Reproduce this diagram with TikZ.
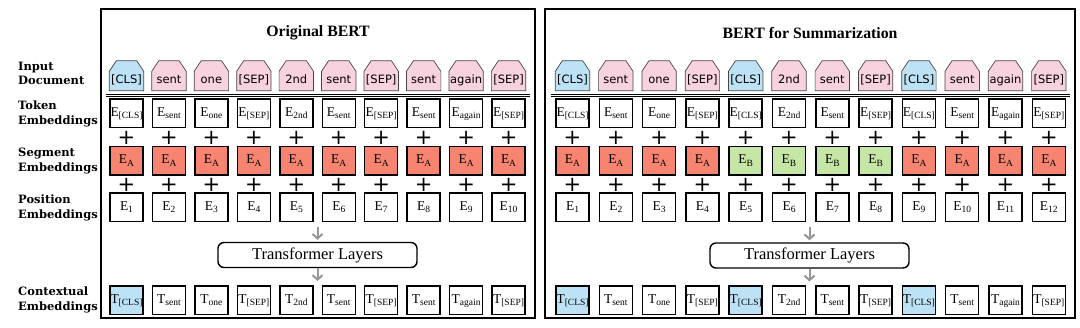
\documentclass[tikz,border=0pt]{standalone}
\usepackage{fontspec}
\setmainfont{Liberation Serif}
\newfontfamily\labfont{DejaVu Serif}
\newfontfamily\tokfont{DejaVu Sans}
\usetikzlibrary{arrows.meta,backgrounds,calc}
\definecolor{clsblue}{RGB}{190,226,245}
\definecolor{tokpink}{RGB}{248,210,222}
\definecolor{segred}{RGB}{246,132,112}
\definecolor{seggreen}{RGB}{198,230,166}
\definecolor{arrgray}{RGB}{150,150,150}
\definecolor{edgegray}{RGB}{70,70,70}
\newcommand{\emb}[2]{#1\raisebox{-2.3pt}{\fontsize{9.5}{9.5}\selectfont #2}}
\begin{document}
\begin{tikzpicture}[x=1pt,y=-1pt,
  panel/.style={draw, line width=1.8pt, inner sep=0pt},
  intok/.style={minimum width=34pt, minimum height=19pt, inner sep=0pt, text height=8.6pt, text depth=2.6pt, font=\tokfont\fontsize{11.5}{12}\selectfont},
  tokedge/.style={draw=edgegray, line width=0.7pt},
  embbox/.style={draw, line width=1.5pt, minimum width=33pt, minimum height=28.5pt, inner sep=0pt, text height=9pt, text depth=3.5pt, font=\fontsize{13.5}{14}\selectfont},
  plussign/.style={inner sep=0pt, font=\tokfont\fontsize{21}{21}\selectfont},
  trbox/.style={draw, line width=1.4pt, rounded corners=6pt, minimum width=199pt, minimum height=25pt, inner sep=0pt, font=\fontsize{16.5}{17}\selectfont},
  garrow/.style={draw=arrgray, line width=2pt, -{Straight Barb[length=4.5pt,width=10pt]}, shorten >=2pt},
  rowlab/.style={anchor=west, align=left, inner sep=0pt, font=\labfont\bfseries\fontsize{11.5}{14.2}\selectfont},
  title/.style={inner sep=0pt, font=\bfseries\fontsize{15.8}{16}\selectfont},
  dline/.style={line width=0.8pt}
]
\useasboundingbox (0,0) rectangle (1080,328);
\begin{pgfonlayer}{background}
\fill[white] (0,0) rectangle (1080,328);
\end{pgfonlayer}

% panels
\node[panel, minimum width=434pt, minimum height=309pt] (Lpanel) at (318,163.5) {};
\node[panel, minimum width=530pt, minimum height=309pt] (Rpanel) at (810,163.5) {};
\node[title] (Ltitle) at (318,33) {Original BERT};
\node[title] (Rtitle) at (810,33) {BERT for Summarization};

% row labels
\node[rowlab] (lab1) at (18,73) {Input\\Document};
\node[rowlab] (lab2) at (18,114) {Token\\Embeddings};
\node[rowlab] (lab3) at (18,161) {Segment\\Embeddings};
\node[rowlab] (lab4) at (18,208) {Position\\Embeddings};
\node[rowlab] (lab5) at (18,300) {Contextual\\Embeddings};

% double lines
\draw[dline] (106,94.3) -- (530,94.3);
\draw[dline] (106,96.8) -- (530,96.8);
\draw[dline] (551,94.3) -- (1070,94.3);
\draw[dline] (551,96.8) -- (1070,96.8);

% ---------- left panel ----------
\foreach \t/\c [count=\i] in {{[CLS]}/clsblue, sent/tokpink, one/tokpink, {[SEP]}/tokpink, 2nd/tokpink, sent/tokpink, {[SEP]}/tokpink, sent/tokpink, again/tokpink, {[SEP]}/tokpink} {
  \node[intok] (Lin\i) at ({126.5+42.45*(\i-1)},81) {\t};
  \begin{pgfonlayer}{background}
  \draw[tokedge, fill=\c] (Lin\i.south west) -- (Lin\i.north west) -- ($(Lin\i.north west)+(7,-10.5)$) -- ($(Lin\i.north east)+(-7,-10.5)$) -- (Lin\i.north east) -- (Lin\i.south east) -- cycle;
  \end{pgfonlayer}
}
\foreach \t [count=\i] in {{[CLS]}, sent, one, {[SEP]}, 2nd, sent, {[SEP]}, sent, again, {[SEP]}} {
  \node[embbox] (Ltok\i) at ({126.5+42.45*(\i-1)},113.5) {\emb{E}{\t}};
  \node[plussign] (Lpa\i) at ({126.5+42.45*(\i-1)},138) {+};
  \node[embbox, fill=segred] (Lseg\i) at ({126.5+42.45*(\i-1)},161) {\emb{E}{A}};
  \node[plussign] (Lpb\i) at ({126.5+42.45*(\i-1)},184.5) {+};
  \node[embbox] (Lpos\i) at ({126.5+42.45*(\i-1)},207.5) {\emb{E}{\i}};
}
\foreach \t/\c [count=\i] in {{[CLS]}/clsblue, sent/white, one/white, {[SEP]}/white, 2nd/white, sent/white, {[SEP]}/white, sent/white, again/white, {[SEP]}/white} {
  \node[embbox, fill=\c] (Lctx\i) at ({126.5+42.45*(\i-1)},300.5) {\emb{T}{\t}};
}
\node[trbox] (Ltr) at (317.5,255) {Transformer Layers};
\coordinate (La) at (317.5,227);
\coordinate (Lb) at (317.5,283);
\draw[garrow] (La) -- (Ltr.north);
\draw[garrow] (Ltr.south) -- (Lb);

% ---------- right panel ----------
\foreach \t/\c [count=\i] in {{[CLS]}/clsblue, sent/tokpink, one/tokpink, {[SEP]}/tokpink, {[CLS]}/clsblue, 2nd/tokpink, sent/tokpink, {[SEP]}/tokpink, {[CLS]}/clsblue, sent/tokpink, again/tokpink, {[SEP]}/tokpink} {
  \node[intok] (Rin\i) at ({572.5+43.3*(\i-1)},81) {\t};
  \begin{pgfonlayer}{background}
  \draw[tokedge, fill=\c] (Rin\i.south west) -- (Rin\i.north west) -- ($(Rin\i.north west)+(7,-10.5)$) -- ($(Rin\i.north east)+(-7,-10.5)$) -- (Rin\i.north east) -- (Rin\i.south east) -- cycle;
  \end{pgfonlayer}
}
\foreach \t/\s/\c [count=\i] in {{[CLS]}/A/segred, sent/A/segred, one/A/segred, {[SEP]}/A/segred, {[CLS]}/B/seggreen, 2nd/B/seggreen, sent/B/seggreen, {[SEP]}/B/seggreen, {[CLS]}/A/segred, sent/A/segred, again/A/segred, {[SEP]}/A/segred} {
  \node[embbox] (Rtok\i) at ({572.5+43.3*(\i-1)},113.5) {\emb{E}{\t}};
  \node[plussign] (Rpa\i) at ({572.5+43.3*(\i-1)},138) {+};
  \node[embbox, fill=\c] (Rseg\i) at ({572.5+43.3*(\i-1)},161) {\emb{E}{\s}};
  \node[plussign] (Rpb\i) at ({572.5+43.3*(\i-1)},184.5) {+};
  \node[embbox] (Rpos\i) at ({572.5+43.3*(\i-1)},207.5) {\emb{E}{\i}};
}
\foreach \t/\c [count=\i] in {{[CLS]}/clsblue, sent/white, one/white, {[SEP]}/white, {[CLS]}/clsblue, 2nd/white, sent/white, {[SEP]}/white, {[CLS]}/clsblue, sent/white, again/white, {[SEP]}/white} {
  \node[embbox, fill=\c] (Rctx\i) at ({572.5+43.3*(\i-1)},300.5) {\emb{T}{\t}};
}
\node[trbox] (Rtr) at (809.5,255.5) {Transformer Layers};
\coordinate (Ra) at (809.5,227.5);
\coordinate (Rb) at (809.5,283.5);
\draw[garrow] (Ra) -- (Rtr.north);
\draw[garrow] (Rtr.south) -- (Rb);
\end{tikzpicture}
\end{document}
